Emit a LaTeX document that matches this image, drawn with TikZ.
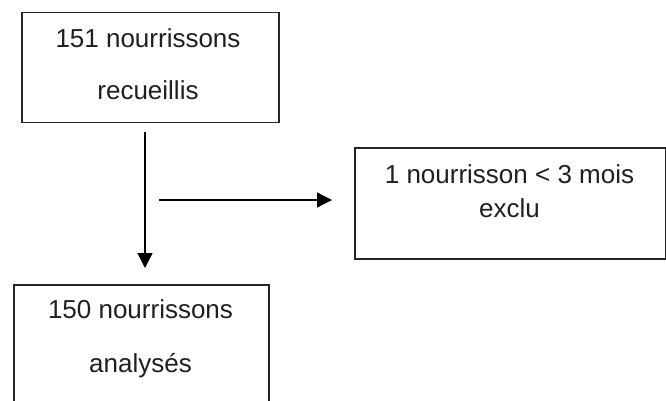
\documentclass[tikz,border=0pt]{standalone}
\usepackage{fontspec}
\setmainfont{Liberation Sans}
\usetikzlibrary{arrows.meta}
\begin{document}
\begin{tikzpicture}[x=1pt,y=-1pt,
  box/.style={draw=black!85,line width=1.5pt,anchor=north west,inner sep=0pt},
  txt/.style={anchor=base,inner sep=0pt,text=black!88,font=\fontsize{26}{30}\selectfont},
  arr/.style={draw=black,line width=1.4pt,-{Triangle[length=15,width=15]}}]
\useasboundingbox (0,0) rectangle (666,401);
\node[box,minimum width=257,minimum height=110] (b1) at (21,12) {};
\node[box,minimum width=311,minimum height=111] (b2) at (354,147) {};
\node[box,minimum width=255,minimum height=140] (b3) at (13,284) {};
\node[txt] (t1a) at (148,48) {151 nourrissons};
\node[txt] (t1b) at (148,100) {recueillis};
\node[txt] (t2a) at (509.5,183) {1 nourrisson < 3 mois};
\node[txt] (t2b) at (509.5,217) {exclu};
\node[txt] (t3a) at (140.5,318) {150 nourrissons};
\node[txt] (t3b) at (140.5,372) {analysés};
\coordinate (v1) at (145,132);
\coordinate (v2) at (145,268);
\coordinate (h1) at (159,200);
\coordinate (h2) at (332,200);
\draw[arr] (v1) -- (v2);
\draw[arr] (h1) -- (h2);
\end{tikzpicture}
\end{document}
